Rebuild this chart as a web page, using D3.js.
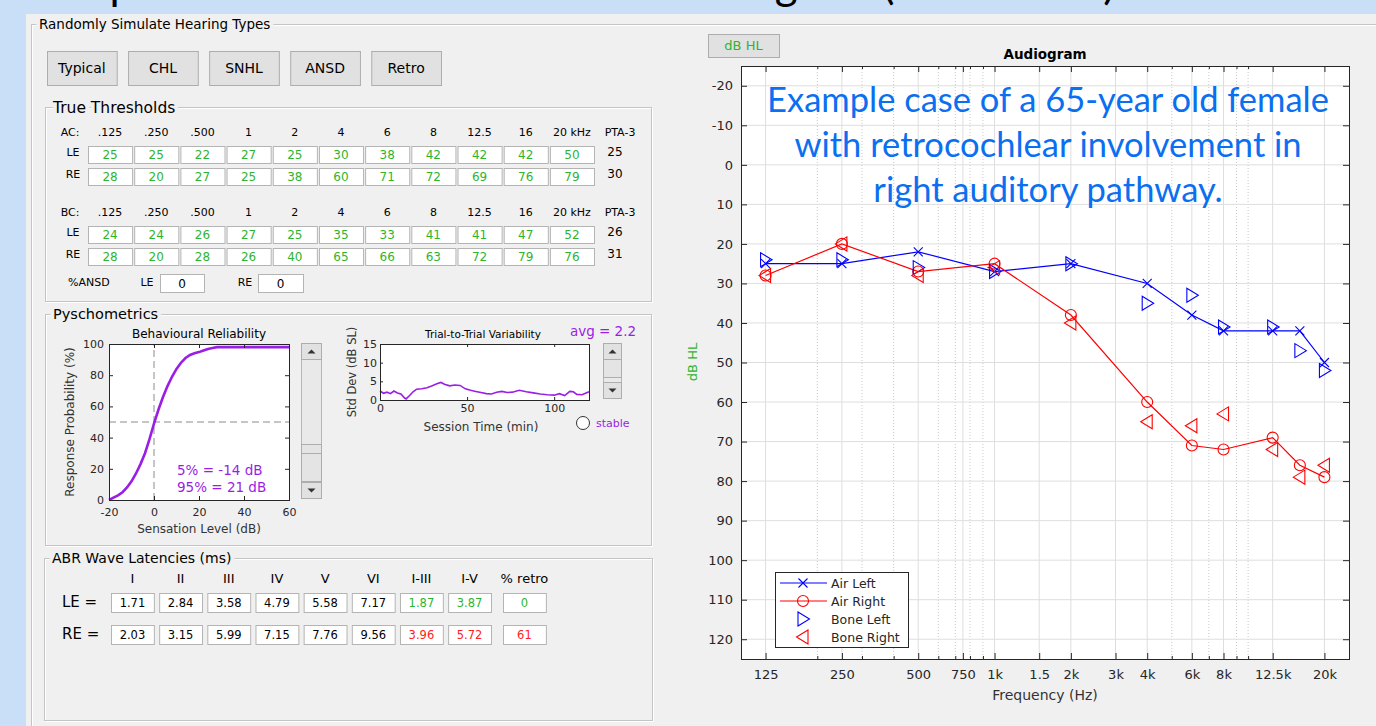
<!DOCTYPE html>
<html>
<head>
<meta charset="utf-8">
<title>Hearing simulator - audiogram</title>
<script src="https://d3js.org/d3.v7.min.js"></script>
<style>
  body { margin: 0; background: #c9def7; overflow: hidden; }
  svg { display: block; }
  text { font-family: "DejaVu Sans", sans-serif; }
  .lbl { paint-order: stroke; stroke: #f0f0f0; stroke-width: 8px; stroke-linejoin: round; }
</style>
</head>
<body>
<div id="chart"></div>
<script>

// ---- data ----
var hearingTypes = ['Typical', 'CHL', 'SNHL', 'ANSD', 'Retro'];

var freqLabels = ['.125', '.250', '.500', '1', '2', '4', '6', '8', '12.5', '16', '20 kHz'];
var freqsHz    = [125, 250, 500, 1000, 2000, 4000, 6000, 8000, 12500, 16000, 20000];
var acLeft     = [25, 25, 22, 27, 25, 30, 38, 42, 42, 42, 50];
var acRight    = [28, 20, 27, 25, 38, 60, 71, 72, 69, 76, 79];
var bcLeft     = [24, 24, 26, 27, 25, 35, 33, 41, 41, 47, 52];
var bcRight    = [28, 20, 28, 26, 40, 65, 66, 63, 72, 79, 76];
var ptaAC      = [25, 30];
var ptaBC      = [26, 31];
var ansdPct    = [0, 0];

// psychometric function (sensation level dB -> response probability %)
var psyLevel = [-20, -18, -16, -14, -12, -10, -8, -6, -4, -2, 0, 2, 4, 6, 8, 10, 12, 14, 16, 18, 20, 22, 24, 26, 28, 30, 40, 50, 60];
var psyProb  = [0, 1.5, 3, 5, 8, 12, 17, 23, 30, 39, 49, 58, 66, 73, 79, 84, 88, 91, 93, 94, 94.8, 95.8, 96.8, 97.5, 98, 98, 98, 98, 98];
var psyTicksX = [-20, 0, 20, 40, 60];
var psyTicksY = [0, 20, 40, 60, 80, 100];

// trial-to-trial variability (min -> std dev dB SL)
var varTime = [0, 2, 4, 6, 8, 10, 12, 14, 15, 17, 19, 21, 24, 27, 30, 33, 35, 37, 40, 43, 46, 49, 52, 55, 58, 61, 64, 67, 70, 73, 76, 80, 84, 88, 92, 96, 100, 103, 106, 109, 111, 113, 116, 118, 120];
var varSD   = [2.4, 1.8, 2.1, 1.7, 2.4, 1.9, 1.6, 0.6, 0.3, 1.2, 2.2, 2.9, 3.0, 3.3, 3.8, 4.4, 4.7, 4.2, 3.8, 4.0, 3.9, 3.0, 2.6, 2.3, 2.0, 1.7, 1.6, 2.1, 2.3, 2.0, 2.1, 2.6, 2.2, 1.9, 1.6, 1.4, 1.3, 1.7, 1.2, 2.3, 2.2, 1.5, 1.4, 1.8, 2.2];
var varTicksX = [0, 50, 100];
var varTicksY = [0, 5, 10, 15];

// ABR latencies (ms)
var abrWaves = ['I', 'II', 'III', 'IV', 'V', 'VI', 'I-III', 'I-V', '% retro'];
var abrLeft  = ['1.71', '2.84', '3.58', '4.79', '5.58', '7.17', '1.87', '3.87', '0'];
var abrRight = ['2.03', '3.15', '5.99', '7.15', '7.76', '9.56', '3.96', '5.72', '61'];

// audiogram axes
var audTickHz     = [125, 250, 500, 750, 1000, 1500, 2000, 3000, 4000, 6000, 8000, 12500, 20000];
var audTickLabels = ['125', '250', '500', '750', '1k', '1.5', '2k', '3k', '4k', '6k', '8k', '12.5k', '20k'];
var audMinorHz    = [200, 300, 400, 600, 700, 800, 900, 5000, 7000, 9000, 10000];
var dbTicks       = [-20, -10, 0, 10, 20, 30, 40, 50, 60, 70, 80, 90, 100, 110, 120];

var noteLines = ['Example case of a 65-year old female', 'with retrocochlear involvement in', 'right auditory pathway.'];

// ---- colours ----
var GREEN = '#2eb52e', PURPLE = '#9a1ee6', RED = '#ff2020', PANEL = '#f0f0f0', AXIS = '#262626';

// plain hyphen for negatives, like the MATLAB labels
function plain(d) { return String(d); }

var svg = d3.select('#chart').append('svg').attr('width', 1376).attr('height', 726);

// slide background + slide title, which sits above the picture (only descenders show)
svg.append('rect').attr('width', 1376).attr('height', 726).attr('fill', '#c9def7');
svg.append('text').attr('x', 4).attr('y', -1).style('font-family', 'Lato').style('font-size', '44px').text('Example');
svg.append('text').attr('x', 661).attr('y', -1).style('font-family', 'Lato').style('font-size', '44px').text('Audiogram (Retro Case)');

// MATLAB window
svg.append('rect').attr('x', 26).attr('y', 14).attr('width', 1350).attr('height', 712).attr('fill', PANEL);

function groupBox(x, y, w, h, label, size) {
  svg.append('rect').attr('x', x + 1.5).attr('y', y + 1.5).attr('width', w).attr('height', h)
     .attr('fill', 'none').attr('stroke', '#ffffff');
  svg.append('rect').attr('x', x + 0.5).attr('y', y + 0.5).attr('width', w).attr('height', h)
     .attr('fill', 'none').attr('stroke', '#c4c4c4');
  svg.append('text').attr('class', 'lbl').attr('x', x + 8).attr('y', y + size * 0.36)
     .style('font-size', size + 'px').text(label);
}

function button(x, y, w, h, label, size, color) {
  svg.append('rect').attr('x', x + 0.5).attr('y', y + 0.5).attr('width', w).attr('height', h)
     .attr('fill', '#e1e1e1').attr('stroke', '#adadad');
  svg.append('text').attr('x', x + w / 2).attr('y', y + h / 2).attr('dy', '0.36em')
     .attr('text-anchor', 'middle').style('font-size', size + 'px').attr('fill', color || '#000').text(label);
}

function valueBox(x, y, w, h, val, size, color) {
  svg.append('rect').attr('x', x + 0.5).attr('y', y + 0.5).attr('width', w).attr('height', h)
     .attr('fill', '#fff').attr('stroke', '#b4b4b4');
  svg.append('text').attr('x', x + w / 2).attr('y', y + h / 2).attr('dy', '0.38em')
     .attr('text-anchor', 'middle').style('font-size', size + 'px').attr('fill', color).text(val);
}

function smallText(x, y, str, size, anchor, color) {
  return svg.append('text').attr('x', x).attr('y', y).attr('dy', '0.36em')
     .attr('text-anchor', anchor || 'middle').style('font-size', size + 'px')
     .attr('fill', color || '#000').text(str);
}

groupBox(31, 24, 1400, 760, 'Randomly Simulate Hearing Types', 13.5);

// preset buttons
var btnX = d3.scaleBand().domain(hearingTypes).range([47, 441]).paddingInner(0.14);
hearingTypes.forEach(function(t) {
  button(btnX(t), 51, btnX.bandwidth(), 34, t, 14);
});

// ---- True Thresholds ----
groupBox(45, 107, 606, 194, 'True Thresholds', 15.5);

var colX = d3.scaleBand().domain(freqLabels).range([88, 594]).paddingInner(0.045);

function thresholdBlock(head, yHead, rows, pta) {
  smallText(70, yHead, head, 11);
  freqLabels.forEach(function(f) { smallText(colX(f) + colX.bandwidth() / 2, yHead, f, 11); });
  smallText(620, yHead, 'PTA-3', 11);
  var rowY = [yHead + 14, yHead + 36];
  ['LE', 'RE'].forEach(function(ear, r) {
    smallText(73, rowY[r] + 6, ear, 11);
    rows[r].forEach(function(v, i) {
      valueBox(colX(freqLabels[i]), rowY[r], colX.bandwidth(), 17, v, 12, GREEN);
    });
    smallText(615, rowY[r] + 6, pta[r], 12);
  });
}
thresholdBlock('AC:', 132, [acLeft, acRight], ptaAC);
thresholdBlock('BC:', 212, [bcLeft, bcRight], ptaBC);

smallText(68, 282, '%ANSD', 11, 'start');
smallText(147, 282, 'LE', 11);
valueBox(160, 274, 44, 18, ansdPct[0], 12, '#000');
smallText(245, 282, 'RE', 11);
valueBox(258, 274, 45, 18, ansdPct[1], 12, '#000');

// ---- Pyschometrics ----
groupBox(45, 314, 606, 231, 'Pyschometrics', 14.5);

var px = d3.scaleLinear().domain([-20, 60]).range([109, 289]);
var py = d3.scaleLinear().domain([0, 100]).range([500, 344]);

svg.append('rect').attr('x', 109).attr('y', 344).attr('width', 180).attr('height', 156).attr('fill', '#fff');
svg.append('line').attr('x1', px(0)).attr('x2', px(0)).attr('y1', py(0)).attr('y2', py(100))
   .attr('stroke', '#8c8c8c').attr('stroke-dasharray', '7,4');
svg.append('line').attr('x1', px(-20)).attr('x2', px(60)).attr('y1', py(50)).attr('y2', py(50))
   .attr('stroke', '#8c8c8c').attr('stroke-dasharray', '7,4');

svg.append('path').datum(psyLevel)
   .attr('d', d3.line().x(function(d) { return px(d); }).y(function(d, i) { return py(psyProb[i]); }))
   .attr('fill', 'none').attr('stroke', PURPLE).attr('stroke-width', 2.6);

function styleAxis(g, size) {
  g.select('.domain').remove();
  g.selectAll('line').attr('stroke', AXIS);
  g.selectAll('text').style('font-size', size + 'px').attr('fill', AXIS).style('font-family', '"DejaVu Sans", sans-serif');
}

svg.append('g').attr('transform', 'translate(0,500)')
   .call(d3.axisBottom(px).tickValues(psyTicksX).tickFormat(plain).tickSizeInner(-4).tickSizeOuter(0).tickPadding(8))
   .call(styleAxis, 11);
svg.append('g').attr('transform', 'translate(0,344)')
   .call(d3.axisTop(px).tickValues(psyTicksX).tickFormat('').tickSizeInner(-4).tickSizeOuter(0))
   .call(styleAxis, 11);
svg.append('g').attr('transform', 'translate(109,0)')
   .call(d3.axisLeft(py).tickValues(psyTicksY).tickFormat(plain).tickSizeInner(-4).tickSizeOuter(0).tickPadding(5))
   .call(styleAxis, 11);
svg.append('g').attr('transform', 'translate(289,0)')
   .call(d3.axisRight(py).tickValues(psyTicksY).tickFormat('').tickSizeInner(-4).tickSizeOuter(0))
   .call(styleAxis, 11);
svg.append('rect').attr('x', 109.5).attr('y', 344.5).attr('width', 180).attr('height', 156)
   .attr('fill', 'none').attr('stroke', AXIS);

smallText(199, 334, 'Behavioural Reliability', 12);
smallText(199, 529, 'Sensation Level (dB)', 12, 'middle', '#333');
smallText(0, 0, 'Response Probability (%)', 12, 'middle', '#333')
   .attr('transform', 'translate(70,422) rotate(-90)');
smallText(177, 470, '5% = -14 dB', 13.5, 'start', PURPLE);
smallText(177, 487, '95% = 21 dB', 13.5, 'start', PURPLE);

// vertical slider next to the reliability plot
function spinner(x, y, w, h, thumbY, thumbH) {
  svg.append('rect').attr('x', x + 0.5).attr('y', y + 0.5).attr('width', w).attr('height', h)
     .attr('fill', '#e9e9e9').attr('stroke', '#b6b6b6');
  svg.append('rect').attr('x', x + 0.5).attr('y', thumbY + 0.5).attr('width', w).attr('height', thumbH)
     .attr('fill', '#e4e4e4').attr('stroke', '#adadad');
  [y, y + h - 16].forEach(function(by, k) {
    svg.append('rect').attr('x', x + 0.5).attr('y', by + 0.5).attr('width', w).attr('height', 16)
       .attr('fill', '#e1e1e1').attr('stroke', '#adadad');
    var cx = x + w / 2 + 0.5, cy = by + 8.5;
    var d = k === 0 ? 'M' + (cx - 4) + ',' + (cy + 2) + 'L' + (cx + 4) + ',' + (cy + 2) + 'L' + cx + ',' + (cy - 2) + 'Z'
                    : 'M' + (cx - 4) + ',' + (cy - 2) + 'L' + (cx + 4) + ',' + (cy - 2) + 'L' + cx + ',' + (cy + 2) + 'Z';
    svg.append('path').attr('d', d).attr('fill', '#333');
  });
}
spinner(301, 343, 20, 155, 444, 37);
svg.append('line').attr('x1', 301).attr('x2', 321).attr('y1', 453.5).attr('y2', 453.5).attr('stroke', '#adadad');

// ---- Trial-to-trial variability ----
var vx = d3.scaleLinear().domain([0, 120]).range([380, 589]);
var vy = d3.scaleLinear().domain([0, 15]).range([400, 344]);

svg.append('rect').attr('x', 380).attr('y', 344).attr('width', 209).attr('height', 56).attr('fill', '#fff');
svg.append('path').datum(varTime)
   .attr('d', d3.line().x(function(d) { return vx(d); }).y(function(d, i) { return vy(varSD[i]); }))
   .attr('fill', 'none').attr('stroke', PURPLE).attr('stroke-width', 1.6);

svg.append('g').attr('transform', 'translate(0,400)')
   .call(d3.axisBottom(vx).tickValues(varTicksX).tickFormat(plain).tickSizeInner(-3).tickSizeOuter(0).tickPadding(4))
   .call(styleAxis, 11);
svg.append('g').attr('transform', 'translate(0,344)')
   .call(d3.axisTop(vx).tickValues(varTicksX).tickFormat('').tickSizeInner(-3).tickSizeOuter(0))
   .call(styleAxis, 11);
svg.append('g').attr('transform', 'translate(380,0)')
   .call(d3.axisLeft(vy).tickValues(varTicksY).tickFormat(plain).tickSizeInner(-3).tickSizeOuter(0).tickPadding(3))
   .call(styleAxis, 11);
svg.append('rect').attr('x', 380.5).attr('y', 344.5).attr('width', 209).attr('height', 56)
   .attr('fill', 'none').attr('stroke', AXIS);

smallText(483, 334, 'Trial-to-Trial Variability', 10.5);
smallText(603, 331, 'avg = 2.2', 13.5, 'middle', PURPLE);
smallText(481, 427, 'Session Time (min)', 12, 'middle', '#333');
smallText(0, 0, 'Std Dev (dB SL)', 11.5, 'middle', '#333').attr('transform', 'translate(352,372) rotate(-90)');

spinner(603, 343, 18, 55, 357, 20);
svg.append('circle').attr('cx', 583).attr('cy', 423).attr('r', 6.5).attr('fill', '#fff').attr('stroke', '#333');
smallText(596, 423, 'stable', 11, 'start', PURPLE);

// ---- ABR Wave Latencies ----
groupBox(44, 558, 608, 162, 'ABR Wave Latencies (ms)', 14);

var abrX = d3.scaleBand().domain(abrWaves.slice(0, 8)).range([111, 491]).paddingInner(0.11);
function abrCol(i) { return i < 8 ? abrX(abrWaves[i]) : 503; }
abrWaves.forEach(function(w, i) {
  smallText(abrCol(i) + abrX.bandwidth() / 2, 578, w, 13);
});
smallText(62, 602, 'LE =', 15, 'start');
smallText(62, 634, 'RE =', 15, 'start');
abrLeft.forEach(function(v, i) {
  valueBox(abrCol(i), 593, abrX.bandwidth(), 19, v, 11.5, i >= 6 ? GREEN : '#000');
});
abrRight.forEach(function(v, i) {
  valueBox(abrCol(i), 625, abrX.bandwidth(), 19, v, 11.5, i >= 6 ? RED : '#000');
});

// ---- Audiogram ----
var xA = d3.scaleLog().domain([100, 25000]).range([741, 1349]);
var yA = d3.scaleLinear().domain([-25, 125]).range([66, 659]);

button(708, 34, 71, 23, 'dB HL', 13, GREEN);

svg.append('rect').attr('x', 741).attr('y', 66).attr('width', 608).attr('height', 593).attr('fill', '#fff');

svg.append('g').selectAll('line').data(audMinorHz).enter().append('line')
   .attr('x1', function(d) { return xA(d); }).attr('x2', function(d) { return xA(d); })
   .attr('y1', 66).attr('y2', 659).attr('stroke', '#c8c8c8').attr('stroke-dasharray', '1,2');
svg.append('g').selectAll('line').data(audTickHz).enter().append('line')
   .attr('x1', function(d) { return xA(d); }).attr('x2', function(d) { return xA(d); })
   .attr('y1', 66).attr('y2', 659).attr('stroke', '#dedede');
svg.append('g').selectAll('line').data(dbTicks).enter().append('line')
   .attr('x1', 741).attr('x2', 1349)
   .attr('y1', function(d) { return yA(d); }).attr('y2', function(d) { return yA(d); })
   .attr('stroke', '#dedede');

svg.append('g').attr('transform', 'translate(0,659)')
   .call(d3.axisBottom(xA).tickValues(audTickHz).tickFormat(function(d, i) { return audTickLabels[i]; })
         .tickSizeInner(-6).tickSizeOuter(0).tickPadding(11))
   .call(styleAxis, 13);
svg.append('g').attr('transform', 'translate(0,659)')
   .call(d3.axisBottom(xA).tickValues(audMinorHz).tickFormat('').tickSizeInner(-3).tickSizeOuter(0))
   .call(styleAxis, 13);
svg.append('g').attr('transform', 'translate(0,66)')
   .call(d3.axisTop(xA).tickValues(audTickHz).tickFormat('').tickSizeInner(-6).tickSizeOuter(0))
   .call(styleAxis, 13);
svg.append('g').attr('transform', 'translate(0,66)')
   .call(d3.axisTop(xA).tickValues(audMinorHz).tickFormat('').tickSizeInner(-3).tickSizeOuter(0))
   .call(styleAxis, 13);
svg.append('g').attr('transform', 'translate(741,0)')
   .call(d3.axisLeft(yA).tickValues(dbTicks).tickFormat(plain).tickSizeInner(-6).tickSizeOuter(0).tickPadding(8))
   .call(styleAxis, 13);
svg.append('g').attr('transform', 'translate(1349,0)')
   .call(d3.axisRight(yA).tickValues(dbTicks).tickFormat('').tickSizeInner(-6).tickSizeOuter(0))
   .call(styleAxis, 13);

svg.append('text').attr('x', 1045).attr('y', 54).attr('dy', '0.36em').attr('text-anchor', 'middle')
   .style('font-size', '13.5px').style('font-weight', 'bold').text('Audiogram');
smallText(1045, 695, 'Frequency (Hz)', 14, 'middle', '#333');
smallText(0, 0, 'dB HL', 13, 'middle', GREEN).attr('transform', 'translate(692,362) rotate(-90)');

var series = [
  {name: 'Air Left',   values: acLeft,  color: '#0000ff', marker: 'x',     line: true},
  {name: 'Air Right',  values: acRight, color: '#ff0000', marker: 'o',     line: true},
  {name: 'Bone Left',  values: bcLeft,  color: '#0000ff', marker: 'right', line: false},
  {name: 'Bone Right', values: bcRight, color: '#ff0000', marker: 'left',  line: false}
];

var markerPath = {
  x: 'M-4.5,-4.5L4.5,4.5M-4.5,4.5L4.5,-4.5',
  o: 'M5.5,0A5.5,5.5 0 1,1 -5.5,0A5.5,5.5 0 1,1 5.5,0Z',
  right: 'M-5,-7L6.5,0L-5,7Z',
  left: 'M5,-7L-6.5,0L5,7Z'
};

var audLine = d3.line().x(function(d, i) { return xA(freqsHz[i]); }).y(function(d) { return yA(d); });

series.forEach(function(s) {
  if (s.line) {
    svg.append('path').datum(s.values).attr('d', audLine)
       .attr('fill', 'none').attr('stroke', s.color).attr('stroke-width', 1.2);
  }
  svg.append('g').selectAll('path').data(s.values).enter().append('path')
     .attr('transform', function(d, i) { return 'translate(' + xA(freqsHz[i]) + ',' + yA(d) + ')'; })
     .attr('d', markerPath[s.marker]).attr('fill', 'none').attr('stroke', s.color).attr('stroke-width', 1.1);
});

svg.append('rect').attr('x', 741.5).attr('y', 66.5).attr('width', 608).attr('height', 593)
   .attr('fill', 'none').attr('stroke', AXIS);

// legend
var legend = svg.append('g').attr('transform', 'translate(775,572)');
legend.append('rect').attr('x', 0.5).attr('y', 0.5).attr('width', 133).attr('height', 75)
      .attr('fill', '#fff').attr('stroke', AXIS);
series.forEach(function(s, i) {
  var ly = 11 + i * 18;
  if (s.line) {
    legend.append('line').attr('x1', 5).attr('x2', 52).attr('y1', ly).attr('y2', ly)
          .attr('stroke', s.color).attr('stroke-width', 1.2);
  }
  legend.append('path').attr('transform', 'translate(28,' + ly + ')').attr('d', markerPath[s.marker])
        .attr('fill', 'none').attr('stroke', s.color).attr('stroke-width', 1.1);
  legend.append('text').attr('x', 56).attr('y', ly).attr('dy', '0.36em')
        .style('font-size', '12.5px').attr('fill', AXIS).text(s.name);
});

// slide annotation
noteLines.forEach(function(t, i) {
  svg.append('text').attr('x', 1048).attr('y', 112 + i * 45).attr('text-anchor', 'middle')
     .style('font-family', 'Lato').style('font-size', '34.5px').attr('fill', '#0a6ff0').text(t);
});

</script>
</body>
</html>
